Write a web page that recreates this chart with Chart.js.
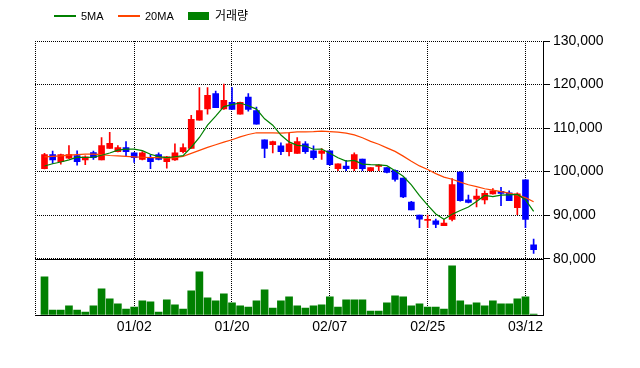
<!DOCTYPE html>
<html><head><meta charset="utf-8">
<script src="https://cdn.jsdelivr.net/npm/chart.js@4.4.1/dist/chart.umd.min.js"></script>
<style>
html,body{margin:0;padding:0;background:#fff;width:640px;height:368px;overflow:hidden;}
#wrap{position:relative;width:640px;height:368px;}
canvas{position:absolute;left:0;top:0;}
.sw{position:absolute;}
.lt{position:absolute;font-family:"Liberation Sans",Arial,sans-serif;font-size:11px;line-height:11px;color:#000;white-space:nowrap;}
.kt{position:absolute;font-family:"Noto Sans CJK KR",sans-serif;font-size:12px;line-height:12px;color:#000;white-space:nowrap;}
</style></head><body>
<div id="wrap">
<canvas id="c" width="640" height="368"></canvas>
<div class="sw" style="left:54px;top:14.5px;width:22px;height:2px;background:#008000"></div>
<div class="lt" style="left:81px;top:11px">5MA</div>
<div class="sw" style="left:118px;top:14.5px;width:22px;height:2px;background:#ff4500"></div>
<div class="lt" style="left:145px;top:11px">20MA</div>
<div class="sw" style="left:188px;top:12px;width:21px;height:8px;background:#008000"></div>
<div class="kt" style="left:215px;top:9px">거래량</div>
</div>
<script>
// ---- data ----
const tickPositions = [11, 23, 35, 47, 59];
const tickLabels = ['01/02', '01/20', '02/07', '02/25', '03/12'];
const priceTicks = [80000, 90000, 100000, 110000, 120000, 130000];

const opens  = [100700,103900,102300,103100,103700,102700,104400,102700,105300,104600,
                105500,104300,102800,103100,103900,102300,102700,104600,105300,111800,
                114400,117900,114400,115900,113200,117100,114000,107300,106200,105900,
                104600,104200,106400,104800,104200,104800,100700,101300,100700,102900,
                100200,101200,100900,100300,98500,93000,90000,88800,88700,87600,
                89000,99900,93500,93700,93500,94900,95500,95100,91700,98100,83200];
const highs  = [104200,104700,104000,106000,104800,103600,104700,107800,109000,106000,
                106900,104400,104600,103900,104300,103500,106400,106400,112900,119300,
                119300,118500,120100,119300,116000,117900,114800,107300,107000,106600,
                108900,107800,106900,105900,105300,104800,101800,102600,104300,102900,
                100900,101600,100900,100400,98500,93200,90000,90000,89100,89000,
                98400,100000,94600,96000,95600,96100,96400,95600,95100,98100,84500];
const lows   = [100600,101900,101700,103000,101500,101600,102800,102700,105300,104500,
                103600,102100,102700,100700,102700,100800,102600,104300,105300,111800,
                113200,114700,114300,114300,113200,113900,110900,103200,104300,103900,
                103600,104200,104200,102800,102800,101400,100200,100200,100200,100200,
                100100,100200,99700,97800,94000,91200,87100,87100,87100,87600,
                88700,93200,92800,91900,92600,94800,92200,93300,90100,87100,81200];
const closes = [103900,102700,103900,103900,102300,103400,103200,106000,106500,105500,
                104600,103200,104300,102300,102800,103400,104300,105500,112000,114000,
                117500,114700,116400,114300,115900,114300,110900,105300,106900,104600,
                106400,106900,104600,103200,104800,101600,101800,100700,103900,100700,
                100900,101500,99800,98200,94200,91200,89100,88900,87900,88200,
                97000,93300,92900,94400,95000,95600,95000,93300,94900,89000,82100];
const ma5    = [101300,101800,102200,102700,103340,103240,103340,103760,104280,104920,
                105160,105160,104820,103980,103440,103200,103420,103660,105600,107840,
                110660,112740,114920,115380,115760,115120,114360,112140,110660,108400,
                106820,106020,105880,105140,105180,104220,103200,102420,102560,101740,
                101600,101540,101360,100220,98920,96980,94500,92320,90260,89060,
                90220,91060,91860,93160,94520,94240,94580,94660,94760,93560,90860];
const ma20   = [103400,103500,103600,103800,103900,104000,104000,103900,103700,103600,
                103500,103400,103300,103200,103200,103100,103200,103500,104200,104885,
                105565,106165,106790,107310,107990,108535,108920,108885,108905,108860,
                108950,109135,109150,109195,109295,109205,109080,108840,108435,107770,
                106940,106280,105450,104645,103560,102405,101315,100495,99545,98725,
                98255,97575,96990,96550,96060,95760,95420,95050,94600,94015,93075];
const volumes = [380000,50000,50000,90000,50000,30000,90000,260000,160000,110000,
                 60000,80000,140000,130000,30000,150000,100000,60000,240000,430000,
                 170000,140000,210000,120000,90000,80000,140000,250000,70000,140000,
                 180000,90000,70000,90000,100000,180000,80000,150000,150000,150000,
                 40000,40000,120000,190000,180000,90000,110000,80000,80000,60000,
                 490000,140000,100000,120000,90000,140000,110000,110000,160000,180000,10000];

// ---- build ----
const UP = '#ff0000', DOWN = '#0000ff';
const idx = closes.map((_, i) => i);
const candleColors = idx.map(i => closes[i] >= opens[i] ? UP : DOWN);
const fmt = v => String(v).replace(/\B(?=(\d{3})+(?!\d))/g, ',');
const FONT = {family: '"Liberation Sans", Arial, sans-serif', size: 14};

const framePlugin = {
  id: 'frame',
  afterDraw(chart) {
    const {ctx, chartArea} = chart;
    const ys = chart.scales.y;
    const yb = Math.round(ys.bottom) + 0.5;
    ctx.save();
    ctx.strokeStyle = '#000';
    ctx.lineWidth = 1;
    ctx.setLineDash([]);
    ctx.beginPath();
    ctx.moveTo(chartArea.left, yb);
    ctx.lineTo(chartArea.right, yb);
    ctx.stroke();
    ctx.restore();
  }
};

new Chart(document.getElementById('c'), {
  type: 'bar',
  data: {
    datasets: [
      {type: 'line', label: '5MA', data: idx.map(i => ({x: i, y: ma5[i]})),
       borderColor: '#008000', borderWidth: 1.2, pointRadius: 0, yAxisID: 'y', order: 0, tension: 0},
      {type: 'line', label: '20MA', data: idx.map(i => ({x: i, y: ma20[i]})),
       borderColor: '#ff4500', borderWidth: 1.2, pointRadius: 0, yAxisID: 'y', order: 1, tension: 0},
      {type: 'bar', label: 'body', data: idx.map(i => ({x: i, y: [opens[i], closes[i]]})),
       backgroundColor: candleColors, barThickness: 6, grouped: false, minBarLength: 1,
       yAxisID: 'y', order: 2},
      {type: 'bar', label: 'wick', data: idx.map(i => ({x: i, y: [lows[i], highs[i]]})),
       backgroundColor: candleColors, barThickness: 1, grouped: false,
       yAxisID: 'y', order: 3},
      {type: 'bar', label: '거래량', data: idx.map(i => ({x: i, y: volumes[i]})),
       backgroundColor: '#008000', barThickness: 7, grouped: false,
       yAxisID: 'yv', order: 4}
    ]
  },
  options: {
    responsive: false,
    animation: false,
    devicePixelRatio: 1,
    layout: {padding: {left: 35, top: 41, right: 0, bottom: 0}},
    plugins: {legend: {display: false}, tooltip: {enabled: false}},
    scales: {
      x: {
        type: 'linear', min: -1.165, max: 61.15, offset: false,
        afterBuildTicks: s => { s.ticks = [{value: s.min}].concat(tickPositions.map(v => ({value: v}))); },
        ticks: {autoSkip: false, maxRotation: 0, color: '#000', font: FONT, padding: 4,
                callback: (v, i) => i === 0 ? '' : tickLabels[i - 1]},
        grid: {offset: false, color: '#000', lineWidth: 1, drawTicks: false},
        border: {display: true, color: '#000', dash: [1, 1]},
        afterFit: s => { s.height = 53; }
      },
      y: {
        type: 'linear', position: 'right', stack: 'v', stackWeight: 217.7,
        min: 80000, max: 130000,
        afterBuildTicks: s => { s.ticks = priceTicks.map(v => ({value: v})); },
        ticks: {color: '#000', font: FONT, padding: 3, callback: v => fmt(v)},
        grid: {color: '#000', lineWidth: 1, tickLength: 7, tickColor: '#000', drawTicks: true},
        border: {display: true, color: '#000', dash: [1, 1]},
        afterFit: s => { s.width = 97; }
      },
      yv: {
        type: 'linear', position: 'right', stack: 'v', stackWeight: 56.3,
        min: 0, max: 560000,
        ticks: {display: false},
        grid: {drawOnChartArea: false, drawTicks: false},
        border: {display: true, color: '#000'},
        afterFit: s => { s.width = 97; }
      }
    }
  },
  plugins: [framePlugin]
});
</script>
</body></html>
